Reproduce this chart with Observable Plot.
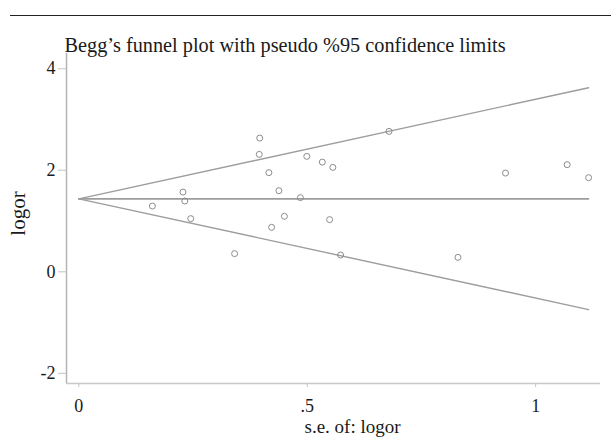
<!DOCTYPE html>
<html>
<head>
<meta charset="utf-8">
<script src="https://cdn.jsdelivr.net/npm/d3@7"></script>
<script src="https://cdn.jsdelivr.net/npm/@observablehq/plot@0.6"></script>
<style>
  html, body { margin: 0; padding: 0; background: #fff; }
  #wrap { position: relative; width: 611px; height: 440px; overflow: hidden; }
  #toprule { position: absolute; left: 10px; top: 15px; width: 601px; height: 0; border-top: 1.5px solid #222; }
  #chart { position: absolute; left: 0; top: 0; }
</style>
</head>
<body>
<div id="wrap"><div id="chart"></div><div id="toprule"></div></div>
<script>
// Study estimates (standard error of logor, logor)
const seLogor = [0.161, 0.228, 0.232, 0.245, 0.341, 0.396, 0.395, 0.416, 0.422, 0.438, 0.450, 0.485, 0.499, 0.533, 0.549, 0.556, 0.573, 0.679, 0.830, 0.934, 1.069, 1.116];
const logor   = [1.295, 1.571, 1.394, 1.047, 0.358, 2.634, 2.313, 1.953, 0.876, 1.598, 1.093, 1.461, 2.274, 2.161, 1.028, 2.057, 0.331, 2.766, 0.285, 1.945, 2.110, 1.854];

// Funnel (pooled estimate and pseudo 95% limits), endpoints
const limitSe = [0, 1.116];
const pooled = [1.437, 1.437];
const upperLimit = [1.437, 3.626];
const lowerLimit = [1.437, -0.744];

// Axes
const xTicks = [0, 0.5, 1];
const xTickLabels = ["0", ".5", "1"];
const yTicks = [-2, 0, 2, 4];
const yTickLabels = ["-2", "0", "2", "4"];
const xDomain = [-0.027, 1.142];
const yDomain = [-2.2, 4.3];

const titleText = "Begg’s funnel plot with pseudo %95 confidence limits";
const xLabel = "s.e. of: logor";
const yLabel = "logor";

const points = seLogor.map((s, i) => ({se: s, logor: logor[i]}));
const mkLine = (ys) => limitSe.map((s, i) => ({se: s, v: ys[i]}));

const chart = Plot.plot({
  width: 611,
  height: 440,
  marginLeft: 66,
  marginRight: 11,
  marginTop: 53,
  marginBottom: 57,
  style: {fontFamily: "'Liberation Serif', serif", fontSize: "18px", color: "#1a1a1a", background: "white", overflow: "visible"},
  x: {domain: xDomain},
  y: {domain: yDomain},
  marks: [
    Plot.ruleX([xDomain[0]], {stroke: "#b5b5b5", strokeWidth: 1.5}),
    Plot.ruleY([yDomain[0]], {stroke: "#c8c8c8", strokeWidth: 1.5}),
    Plot.axisY({ticks: yTicks, tickFormat: d => yTickLabels[yTicks.indexOf(d)], tickSize: 8, tickPadding: 3, stroke: "#c4c4c4", fill: "#1a1a1a", fontSize: 18, label: null}),
    Plot.axisX({ticks: xTicks, tickFormat: d => xTickLabels[xTicks.indexOf(d)], tickSize: 4, tickPadding: 12, stroke: "#c4c4c4", fill: "#1a1a1a", fontSize: 18, label: null}),
    Plot.line(mkLine(upperLimit), {x: "se", y: "v", stroke: "#9d9d9d", strokeWidth: 1.4}),
    Plot.line(mkLine(lowerLimit), {x: "se", y: "v", stroke: "#9d9d9d", strokeWidth: 1.4}),
    Plot.line(mkLine(pooled), {x: "se", y: "v", stroke: "#9d9d9d", strokeWidth: 1.6}),
    Plot.dot(points, {x: "se", y: "logor", r: 3, stroke: "#8c8c8c", strokeWidth: 1, fill: "none"}),
    Plot.text([titleText], {frameAnchor: "top-left", textAnchor: "start", lineAnchor: "middle", dx: -2, dy: -8.4, fontSize: 20.3, fill: "#1a1a1a"}),
    Plot.text([xLabel], {frameAnchor: "bottom", textAnchor: "middle", lineAnchor: "middle", dx: 19, dy: 43, fontSize: 19, fill: "#1a1a1a"}),
    Plot.text([yLabel], {frameAnchor: "left", textAnchor: "middle", lineAnchor: "middle", rotate: -90, dx: -48, dy: -5, fontSize: 21, fill: "#1a1a1a"})
  ]
});
document.getElementById("chart").appendChild(chart);
</script>
</body>
</html>
